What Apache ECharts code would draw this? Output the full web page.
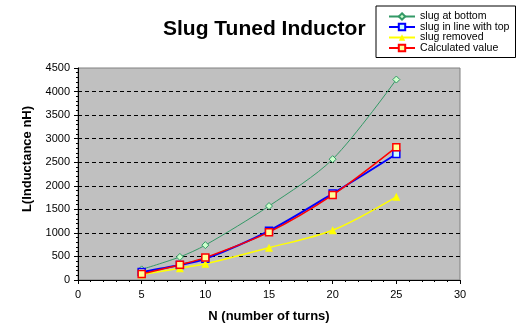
<!DOCTYPE html>
<html>
<head>
<meta charset="utf-8">
<script src="https://cdn.jsdelivr.net/npm/echarts@6/dist/echarts.min.js"></script>
<style>html,body{margin:0;padding:0;background:#fff;}#c{width:526px;height:331px;}</style>
</head>
<body>
<div id="c"></div>
<script>
var turns = [5, 8, 10, 15, 20, 25];
var slugBottom = [225, 490, 740, 1570, 2565, 4255];
var slugTop = [170, 320, 450, 1045, 1835, 2675];
var slugRemoved = [115, 250, 345, 685, 1055, 1765];
var calculated = [130, 325, 475, 1015, 1805, 2820];
var xTicks = [0, 5, 10, 15, 20, 25, 30];
var yTicks = [0, 500, 1000, 1500, 2000, 2500, 3000, 3500, 4000, 4500];

function pairs(ys) { return turns.map(function (x, i) { return [x, ys[i]]; }); }
var FONT = 'Liberation Sans, Arial, sans-serif';

var chart = echarts.init(document.getElementById('c'), null, {renderer: 'canvas'});
chart.setOption({
  animation: false,
  backgroundColor: '#fff',
  title: {
    text: 'Slug Tuned Inductor', left: 163, top: 19, padding: 0,
    textStyle: {fontFamily: FONT, fontSize: 21, fontWeight: 'bold', color: '#000'}
  },
  legend: {
    orient: 'vertical', left: 376, top: 6,
    padding: [5, 6, 4, 12],
    itemWidth: 26, itemHeight: 8, itemGap: -0.5,
    backgroundColor: '#fff', borderColor: '#000', borderWidth: 1,
    textStyle: {fontFamily: FONT, fontSize: 10.6, color: '#000', lineHeight: 10},
    data: ['slug at bottom', 'slug in line with top', 'slug removed', 'Calculated value']
  },
  grid: {
    left: 78, right: 66, top: 68, bottom: 51,
    show: true, backgroundColor: '#C0C0C0', borderColor: '#808080', borderWidth: 1
  },
  xAxis: {
    type: 'value', min: xTicks[0], max: xTicks[xTicks.length - 1], interval: 5,
    name: 'N (number of turns)', nameLocation: 'middle', nameGap: 30,
    nameTextStyle: {fontFamily: FONT, fontSize: 13, fontWeight: 'bold', color: '#000'},
    axisLine: {lineStyle: {color: '#000', width: 1}},
    axisTick: {show: true, length: 4, lineStyle: {color: '#000'}},
    minorTick: {show: true, splitNumber: 5, length: 2, lineStyle: {color: '#000'}},
    axisLabel: {fontFamily: FONT, fontSize: 11, color: '#000', margin: 9, formatter: function (v) { return String(v); }},
    splitLine: {show: false}
  },
  yAxis: {
    type: 'value', min: yTicks[0], max: yTicks[yTicks.length - 1], interval: 500,
    name: 'L(Inductance nH)', nameLocation: 'middle', nameGap: 44,
    nameTextStyle: {fontFamily: FONT, fontSize: 13, fontWeight: 'bold', color: '#000', padding: [0, 0, 0, 30]},
    axisLine: {show: true, lineStyle: {color: '#000', width: 1}},
    axisTick: {show: true, length: 4, lineStyle: {color: '#000'}},
    minorTick: {show: true, splitNumber: 5, length: 2, lineStyle: {color: '#000'}},
    axisLabel: {fontFamily: FONT, fontSize: 11, color: '#000', margin: 8, formatter: function (v) { return String(v); }},
    splitLine: {show: true, showMaxLine: false, showMinLine: false, lineStyle: {color: '#000', type: [4, 3], width: 1}}
  },
  series: [
    {
      name: 'slug at bottom', type: 'line', data: pairs(slugBottom), smooth: 0.3,
      symbol: 'diamond', symbolSize: 7,
      lineStyle: {color: '#339966', width: 1},
      itemStyle: {color: '#CCFFCC', borderColor: '#339966', borderWidth: 1}
    },
    {
      name: 'slug in line with top', type: 'line', data: pairs(slugTop), smooth: 0.3,
      symbol: 'rect', symbolSize: 7,
      lineStyle: {color: '#0000FF', width: 2},
      itemStyle: {color: '#CCFFFF', borderColor: '#0000FF', borderWidth: 1.5}
    },
    {
      name: 'slug removed', type: 'line', data: pairs(slugRemoved), smooth: 0.3,
      symbol: 'triangle', symbolSize: 8,
      lineStyle: {color: '#FFFF00', width: 1.5},
      itemStyle: {color: '#FFFF00', borderColor: '#FFFF00', borderWidth: 0}
    },
    {
      name: 'Calculated value', type: 'line', data: pairs(calculated), smooth: 0.3,
      symbol: 'rect', symbolSize: 7,
      lineStyle: {color: '#FF0000', width: 1.5},
      itemStyle: {color: '#FFFF99', borderColor: '#FF0000', borderWidth: 1.5}
    }
  ]
});
</script>
</body>
</html>
